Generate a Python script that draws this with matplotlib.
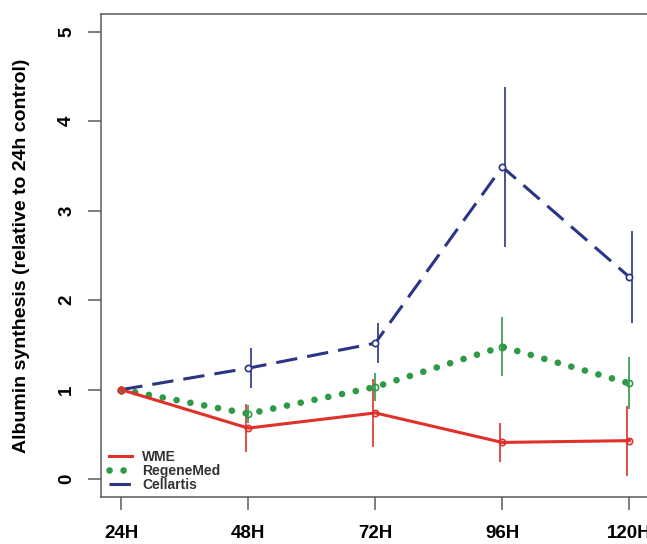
import matplotlib.pyplot as plt
import numpy as np

plt.rcParams['font.family'] = ['Liberation Sans', 'DejaVu Sans']

time_labels = ['24H', '48H', '72H', '96H', '120H']
wme = [1.00, 0.57, 0.74, 0.41, 0.43]
wme_err = [0.0, 0.27, 0.38, 0.22, 0.39]
regene = [1.00, 0.73, 1.03, 1.48, 1.07]
regene_err = [0.0, 0.10, 0.16, 0.33, 0.29]
cellartis = [1.00, 1.24, 1.52, 3.49, 2.26]
cellartis_err = [0.0, 0.22, 0.22, 0.89, 0.51]

red = '#e0302a'
green = '#2e9a48'
blue = '#2b3585'
axcol = '#5a5a5a'

x = np.arange(1, len(time_labels) + 1)

fig = plt.figure(figsize=(6.47, 5.44), dpi=100)
ax = fig.add_axes([0.156, 0.0864, 0.848, 0.888])

# error bars (no caps)
ax.errorbar(x + 0.02, cellartis, yerr=cellartis_err, fmt='none', ecolor=blue, elinewidth=1.2, capsize=0, zorder=2)
ax.errorbar(x, regene, yerr=regene_err, fmt='none', ecolor=green, elinewidth=1.2, capsize=0, zorder=2)
ax.errorbar(x - 0.02, wme, yerr=wme_err, fmt='none', ecolor=red, elinewidth=1.2, capsize=0, zorder=2)

ax.plot(x, cellartis, color=blue, lw=2.2, ls=(0, (7.0, 3.3)), marker='o', ms=4.5,
        mfc='white', mec=blue, mew=1.2, label='Cellartis', zorder=3)
ax.plot(x, regene, color=green, lw=4.8, ls=(0, (0.01, 2.1)), dash_capstyle='round',
        marker='o', ms=4.5, mfc='none', mec=green, mew=1.2, label='RegeneMed', zorder=3)
ax.plot(x, wme, color=red, lw=2.2, marker='o', ms=4.5, mfc='none', mec=red, mew=1.2,
        label='WME', zorder=4)

ax.set_xlim(0.84, 5.16)
ax.set_ylim(-0.2, 5.2)
ax.set_xticks(x)
ax.set_xticklabels(time_labels)
ax.set_yticks(range(0, 6))
ax.set_yticklabels([str(v) for v in range(0, 6)], rotation=90, va='center')

for s in ax.spines.values():
    s.set_color(axcol)
    s.set_linewidth(1.1)

ax.tick_params(axis='x', length=9.5, width=1.1, color=axcol, pad=11, labelsize=13.5)
ax.tick_params(axis='y', length=9.5, width=1.1, color=axcol, pad=9, labelsize=13.5)
for lab in ax.get_xticklabels() + ax.get_yticklabels():
    lab.set_fontweight('bold')

ax.set_ylabel('Albumin synthesis (relative to 24h control)', fontsize=14,
              fontweight='bold')
ax.yaxis.set_label_coords(-0.13, 0.5)

h, l = ax.get_legend_handles_labels()
order = [2, 1, 0]
leg = ax.legend([h[i] for i in order], [l[i] for i in order], loc='lower left',
                bbox_to_anchor=(0.0, -0.005), frameon=False,
                handlelength=1.7, handletextpad=0.7, labelspacing=0.0,
                borderaxespad=0.15, prop={'weight': 'bold', 'size': 10})
for t in leg.get_texts():
    t.set_color('#333333')
for lh in leg.get_lines():
    lh.set_marker('')

fig.savefig('out.png', dpi=100)
